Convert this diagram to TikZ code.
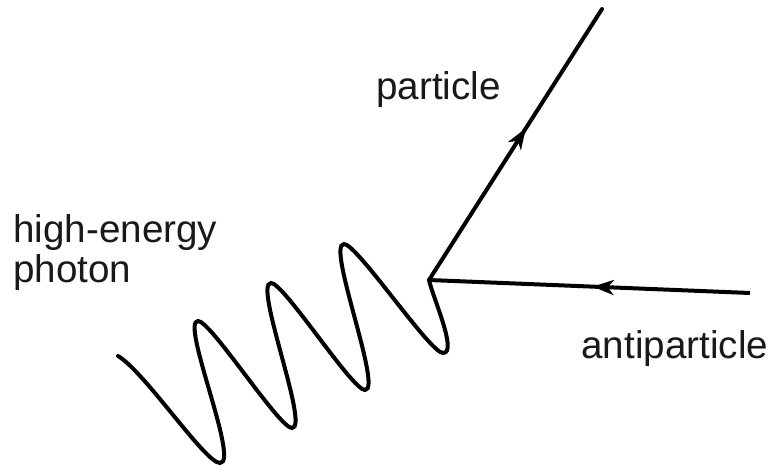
\documentclass[tikz,border=0pt]{standalone}
\usepackage{fontspec}
\setmainfont{Liberation Sans}
\usetikzlibrary{arrows.meta,decorations.markings}
\begin{document}
\begin{tikzpicture}[x=0.5pt,y=-0.5pt,
  lbl/.style={inner sep=0pt,font=\fontsize{19.3}{20}\selectfont,text=black!90},
  ln/.style={line width=2pt,line join=miter},
  fermion/.style={ln,postaction={decorate},decoration={markings,
     mark=at position #1 with {\arrow{Stealth[length=10.5pt,width=7.5pt,inset=3pt]}}}}
]
\useasboundingbox (0,0) rectangle (773,472);
\coordinate (v) at (429,280);
\coordinate (p) at (602,9);
\coordinate (a) at (750,293);
\coordinate (s) at (118,356);
\coordinate (b1) at (220,463);
\coordinate (t1) at (198,321);
\coordinate (b2) at (292,428);
\coordinate (t2) at (271,283);
\coordinate (b3) at (365,390);
\coordinate (t3) at (344,244);
\coordinate (b4) at (443,353);

% photon
\draw[ln,line cap=round] (s) .. controls (145,372) and (205,463) .. (b1)
  .. controls (240,463) and (180,321) .. (t1)
  .. controls (211,321) and (279,428) .. (b2)
  .. controls (310,428) and (253,283) .. (t2)
  .. controls (284,283) and (352,390) .. (b3)
  .. controls (383,390) and (326,244) .. (t3)
  .. controls (357,244) and (430,353) .. (b4)
  .. controls (458,353) and (433,298) .. (v);
% fermions
\draw[fermion=0.56,line cap=round] (v) -- (p);
\draw[fermion=0.49] (a) -- (v);

\node[lbl,anchor=base west,align=left] (ph) at (13,282) {high-energy\\[0pt]photon};
\node[lbl,anchor=base west] (pl) at (376,99) {particle};
\node[lbl,anchor=base west] (al) at (581,358) {antiparticle};
\end{tikzpicture}
\end{document}
